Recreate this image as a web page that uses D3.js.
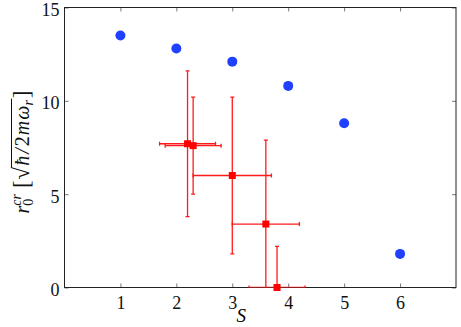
<!DOCTYPE html>
<html>
<head>
<meta charset="utf-8">
<script src="https://cdn.jsdelivr.net/npm/d3@7"></script>
<style>
  body { margin: 0; background: #fff; }
</style>
</head>
<body>
<svg id="chart" width="461" height="327"></svg>
<script>
// data
var xTicks = [1, 2, 3, 4, 5, 6];
var yTicks = [0, 5, 10, 15];

var blueS = [1, 2, 3, 4, 5, 6];
var blueR = [13.5, 12.8, 12.1, 10.8, 8.8, 1.8];

var redS = [2.2, 2.3, 3.0, 3.6, 3.8];
var redR = [7.7, 7.6, 6.0, 3.4, 0.0];
var redSLo = [1.7, 1.8, 2.3, 3.0, 3.3];
var redSHi = [2.7, 2.8, 3.7, 4.2, 4.3];
var redRLo = [3.8, 5.0, 1.8, -1.0, -1.0];
var redRHi = [11.6, 10.2, 10.2, 7.9, 2.2];

var FONT = "Liberation Serif";

var svg = d3.select("#chart"),
    margin = {top: 7.5, right: 5, bottom: 39.5, left: 64.5},
    width = +svg.attr("width") - margin.left - margin.right,
    height = +svg.attr("height") - margin.top - margin.bottom;

var g = svg.append("g")
    .attr("transform", "translate(" + margin.left + "," + margin.top + ")");

var x = d3.scaleLinear().domain([0, 7]).range([0, width]);
var y = d3.scaleLinear().domain([0, 15]).range([height, 0]);

svg.append("defs").append("clipPath").attr("id", "clip")
    .append("rect").attr("width", width).attr("height", height);

// axes with inward ticks on all four sides
var tickLen = 4;
function styleAxis(sel) {
    sel.attr("font-family", FONT);
    sel.select(".domain").remove();
    sel.selectAll("line").attr("stroke", "#555").attr("stroke-width", 0.8);
    sel.selectAll("text").attr("font-family", FONT).attr("font-size", 18).attr("fill", "#111");
}
g.append("g")
    .attr("transform", "translate(0," + height + ")")
    .call(d3.axisBottom(x).tickValues(xTicks).tickSizeInner(-tickLen).tickPadding(9).tickFormat(d3.format("d")))
    .call(styleAxis);
g.append("g")
    .call(d3.axisTop(x).tickValues(xTicks).tickSizeInner(-tickLen).tickFormat(""))
    .call(styleAxis);
g.append("g")
    .call(d3.axisLeft(y).tickValues(yTicks).tickSizeInner(-tickLen).tickPadding(5).tickFormat(d3.format("d")))
    .call(styleAxis)
    .selectAll("text").attr("dy", "0.45em");
g.append("g")
    .attr("transform", "translate(" + width + ",0)")
    .call(d3.axisRight(y).tickValues(yTicks).tickSizeInner(-tickLen).tickFormat(""))
    .call(styleAxis);

g.append("rect")
    .attr("width", width).attr("height", height)
    .attr("fill", "none").attr("stroke", "#222").attr("stroke-width", 1);

// blue points
g.selectAll(".blue")
    .data(blueS)
    .enter().append("circle")
    .attr("class", "blue")
    .attr("cx", function (d) { return x(d); })
    .attr("cy", function (d, i) { return y(blueR[i]); })
    .attr("r", 5)
    .attr("fill", "#2040ff");

// red points with error bars
var red = redS.map(function (d, i) {
    return {s: d, r: redR[i], sLo: redSLo[i], sHi: redSHi[i], rLo: redRLo[i], rHi: redRHi[i]};
});
var eb = g.append("g").attr("clip-path", "url(#clip)")
    .attr("stroke", "#ff1a1a").attr("stroke-width", 1.3).attr("fill", "none");
var cap = 2;
red.forEach(function (d) {
    eb.append("line").attr("x1", x(d.s)).attr("x2", x(d.s)).attr("y1", y(d.rLo)).attr("y2", y(d.rHi));
    eb.append("line").attr("x1", x(d.s) - cap).attr("x2", x(d.s) + cap).attr("y1", y(d.rLo)).attr("y2", y(d.rLo));
    eb.append("line").attr("x1", x(d.s) - cap).attr("x2", x(d.s) + cap).attr("y1", y(d.rHi)).attr("y2", y(d.rHi));
    eb.append("line").attr("x1", x(d.sLo)).attr("x2", x(d.sHi)).attr("y1", y(d.r)).attr("y2", y(d.r));
    eb.append("line").attr("x1", x(d.sLo)).attr("x2", x(d.sLo)).attr("y1", y(d.r) - cap).attr("y2", y(d.r) + cap);
    eb.append("line").attr("x1", x(d.sHi)).attr("x2", x(d.sHi)).attr("y1", y(d.r) - cap).attr("y2", y(d.r) + cap);
});
g.selectAll(".red")
    .data(red)
    .enter().append("rect")
    .attr("class", "red")
    .attr("x", function (d) { return x(d.s) - 3.5; })
    .attr("y", function (d) { return y(d.r) - 3.5; })
    .attr("width", 7).attr("height", 7)
    .attr("fill", "#ff0000");

// x label
svg.append("text")
    .attr("x", margin.left + width / 2 - 19)
    .attr("y", 322)
    .attr("text-anchor", "middle")
    .attr("font-family", FONT)
    .attr("font-size", 19)
    .attr("font-style", "italic")
    .text("S");

// y label: r_0^cr [ sqrt(hbar / 2 m omega_r) ]
var lx = 29, ly = 152;
var yl = svg.append("text")
    .attr("transform", "translate(" + lx + "," + ly + ") rotate(-90)")
    .attr("text-anchor", "middle")
    .attr("font-family", FONT)
    .attr("font-size", 20)
    .attr("fill", "#111");
yl.append("tspan").attr("font-style", "italic").text("r");
yl.append("tspan").attr("font-size", 14).attr("dy", 4).attr("dx", 0).text("0");
yl.append("tspan").attr("font-size", 14).attr("font-style", "italic").attr("dy", -12).attr("dx", -7).text("cr");
yl.append("tspan").attr("font-size", 23).attr("dy", 8).attr("dx", 6).text("[");
yl.append("tspan").attr("font-size", 23).attr("dx", 1).text("\u221A");
yl.append("tspan").attr("font-style", "italic").attr("dx", 1).text("\u0127");
yl.append("tspan").attr("font-style", "italic").attr("dx", 2).text("/");
yl.append("tspan").attr("dx", 2).text("2");
yl.append("tspan").attr("font-style", "italic").attr("dx", 1).text("m");
yl.append("tspan").attr("font-style", "italic").attr("dx", 1).text("\u03C9");
yl.append("tspan").attr("font-size", 14).attr("font-style", "italic").attr("dy", 4).text("r");
yl.append("tspan").attr("font-size", 23).attr("dy", -4).attr("dx", 2).text("]");

// overline of the square root, measured in the text's own frame
var node = yl.node();
var iSqrt = "r0cr[".length;
var iLast = "r0cr[\u221A\u0127/2m\u03C9r".length - 1;
var e0 = node.getEndPositionOfChar(iSqrt);
var p1 = node.getEndPositionOfChar(iLast);
svg.append("line")
    .attr("transform", "translate(" + lx + "," + ly + ") rotate(-90)")
    .attr("x1", e0.x - 0.8).attr("x2", p1.x + 1.5)
    .attr("y1", e0.y - 17.5).attr("y2", e0.y - 17.5)
    .attr("stroke", "#111").attr("stroke-width", 1);
</script>
</body>
</html>
